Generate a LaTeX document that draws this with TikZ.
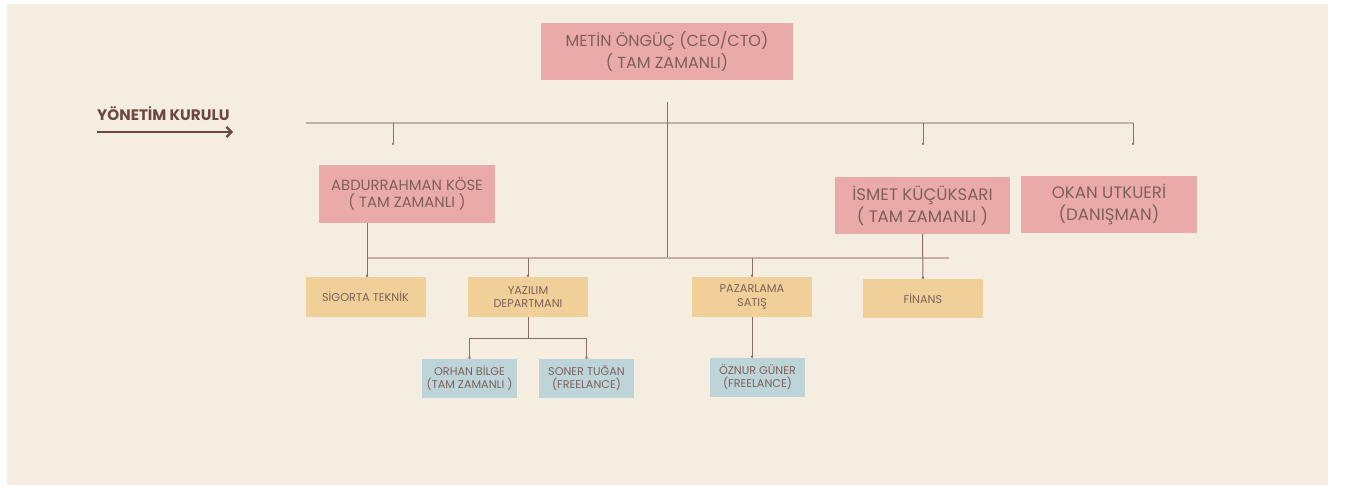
\documentclass[tikz,border=0pt]{standalone}
\usepackage{fontspec}
\setmainfont{Poppins}
\usetikzlibrary{arrows.meta}
\definecolor{bgbeige}{HTML}{F5EDDF}
\definecolor{boxpink}{HTML}{EBAAAA}
\definecolor{boxyellow}{HTML}{F0D098}
\definecolor{boxblue}{HTML}{BDD5D9}
\definecolor{txtbrown}{HTML}{7E605A}
\definecolor{headbrown}{HTML}{6C4840}
\definecolor{barline}{HTML}{C4AFA4}
\definecolor{dropline}{HTML}{8C6E66}
\tikzset{
  box/.style={inner sep=0pt, align=center, text=txtbrown},
  headbox/.style={box, fill=boxpink, font=\fontsize{16}{22}\selectfont},
  leadbox/.style={box, fill=boxpink},
  deptbox/.style={box, fill=boxyellow, minimum width=120pt, minimum height=40pt, font=\fontsize{11.3}{13.3}\selectfont},
  staffbox/.style={box, fill=boxblue, minimum width=95pt, minimum height=39pt, font=\fontsize{11.2}{13}\selectfont},
  bar/.style={barline, line width=2pt},
  drop/.style={dropline, line width=1pt},
  dropdot/.style={drop, -{Circle[length=2.2pt]}}
}
\begin{document}
\begin{tikzpicture}[x=1pt, y=-1pt]
    \useasboundingbox (0,0) rectangle (1347,489);
    \fill[white] (0,0) rectangle (1347,489);
    \fill[bgbeige] (7,4) rectangle (1328,485);
    % title and board
    \node [headbox, minimum width=252pt, minimum height=57pt] (ceo) at (667,51.5) {METİN ÖNGÜÇ (CEO/CTO)\\( TAM ZAMANLI)};
    \node [text=headbrown, font=\fontsize{15.2}{16}\selectfont\bfseries, anchor=west, inner sep=0pt] (board) at (97,114) {YÖNETİM KURULU};
    \coordinate (arrowstart) at (97,132);
    \coordinate (arrowend) at (233,132);
    \draw [headbrown, line width=2.8pt, -{Straight Barb[length=5pt, width=10pt, line width=2.2pt]}] (arrowstart) -- (arrowend);
    \node [leadbox, minimum width=176pt, minimum height=58pt, font=\fontsize{14.8}{17.6}\selectfont] (abdurrahman) at (407,194) {ABDURRAHMAN KÖSE\\( TAM ZAMANLI )};
    \node [leadbox, minimum width=175pt, minimum height=57pt, font=\fontsize{16.6}{21.7}\selectfont] (ismet) at (922.5,205.5) {İSMET KÜÇÜKSARI\\( TAM ZAMANLI )};
    \node [leadbox, minimum width=176pt, minimum height=57pt, font=\fontsize{16.6}{21.7}\selectfont] (okan) at (1109,204.5) {OKAN UTKUERİ\\(DANIŞMAN)};
    % departments
    \node [deptbox] (sigorta) at (365.5,297) {SİGORTA TEKNİK};
    \node [deptbox] (yazilim) at (528,297) {YAZILIM\\DEPARTMANI};
    \node [deptbox] (pazarlama) at (752,297) {PAZARLAMA\\SATIŞ};
    \node [deptbox, minimum height=39pt] (finans) at (923,298.5) {FİNANS};
    % staff
    \node [staffbox] (orhan) at (469.5,378.5) {ORHAN BİLGE\\(TAM ZAMANLI )};
    \node [staffbox] (soner) at (586.5,378.5) {SONER TUĞAN\\(FREELANCE)};
    \node [staffbox] (oznur) at (757.5,377.5) {ÖZNUR GÜNER\\(FREELANCE)};
    % board bar
    \coordinate (boardL) at (306,123);
    \coordinate (boardR) at (1133,123);
    \coordinate (ceotrunk) at (667,102);
    \coordinate (deptbar) at (667,258);
    \draw [bar] (boardL) -- (boardR);
    \draw [drop] (ceotrunk) -- (deptbar);
    \foreach \x in {393,923,1133}
        \draw [dropdot] (\x,123) -- (\x,145);
    % department bar
    \coordinate (deptL) at (367,258);
    \coordinate (deptR) at (949,258);
    \draw [bar] (deptL) -- (deptR);
    \draw [dropdot] (abdurrahman.south -| deptL) -- (sigorta.north -| deptL);
    \draw [dropdot] (ismet.south) -- (finans.north);
    \draw [dropdot] (yazilim.north |- deptL) -- (yazilim.north);
    \draw [dropdot] (pazarlama.north |- deptL) -- (pazarlama.north);
    % staff links
    \coordinate (softbar) at (528,338);
    \draw [drop] (yazilim.south) -- (softbar);
    \draw [drop] (orhan.north |- softbar) -- (soner.north |- softbar);
    \draw [dropdot] (orhan.north |- softbar) -- (orhan.north);
    \draw [dropdot] (soner.north |- softbar) -- (soner.north);
    \draw [dropdot] (pazarlama.south) -- (pazarlama.south |- oznur.north);
\end{tikzpicture}
\end{document}
